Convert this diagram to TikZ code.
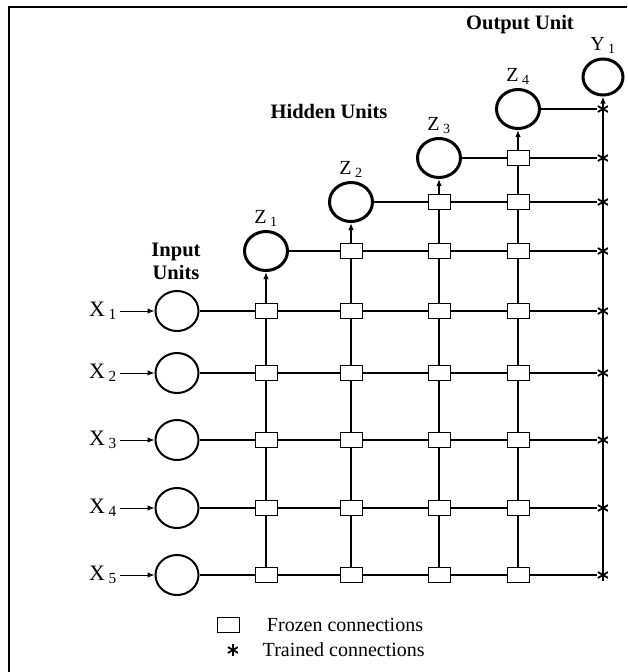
\documentclass[tikz,border=0pt]{standalone}
\usepackage{fontspec}
\setmainfont{Liberation Serif}
\usetikzlibrary{positioning, shapes.geometric, arrows.meta}

\tikzset{
  trained/.style={circle, minimum size=12pt, inner sep=0pt,
    path picture={
      \draw[line width=1.8pt] (path picture bounding box.center) +(90:6pt) -- +(270:6pt);
      \draw[line width=1.8pt] (path picture bounding box.center) +(30:6pt) -- +(210:6pt);
      \draw[line width=1.8pt] (path picture bounding box.center) +(150:6pt) -- +(330:6pt);
    }}
}

\begin{document}
\begin{tikzpicture}[
  x=1pt, y=-1pt,
  font=\fontsize{20}{22}\selectfont,
  >={Latex[length=7pt,width=5.5pt]},
  inunit/.style={draw, ellipse, line width=2pt, minimum width=43pt, minimum height=40pt, inner sep=0pt},
  hidunit/.style={draw, ellipse, line width=3pt, minimum width=43pt, minimum height=39pt, inner sep=0pt},
  frozen/.style={draw, fill=white, line width=0.9pt, minimum width=22pt, minimum height=15pt, inner sep=0pt},
  link/.style={line width=1.6pt},
  head/.style={font=\fontsize{20.5}{23}\selectfont\bfseries, align=center}
]
  \useasboundingbox (0,0) rectangle (627,672);
  \draw[line width=2.5pt] (9,672) -- (9,7) -- (627,7);

  % input rows
  \foreach \r/\y in {1/311, 2/373, 3/440, 4/508, 5/575} {
    \node[inunit] (x\r) at (177,\y) {};
    \node[anchor=east, inner sep=3pt, font=\fontsize{22}{24}\selectfont] (xl\r) at (120,\y) {X\,\textsubscript{\r}};
    \foreach \c/\x in {1/266, 2/351, 3/439, 4/518}
      \node[frozen] (s\r\c) at (\x,\y) {};
    \node[trained] (t\r) at (603,\y) {};
    \draw[->, line width=1pt] (xl\r) -- (x\r);
    \draw[link] (x\r) -- (s\r1) -- (s\r2) -- (s\r3) -- (s\r4) -- (t\r);
  }

  % hidden and output units
  \node[hidunit] (z1) at (266,251) {};
  \node[hidunit] (z2) at (351,202) {};
  \node[hidunit] (z3) at (439,158) {};
  \node[hidunit] (z4) at (518,109) {};
  \node[hidunit, minimum width=40pt, minimum height=36pt] (y1) at (603,77) {};

  \foreach \c/\x in {2/351, 3/439, 4/518} \node[frozen] (h1\c) at (\x,251) {};
  \foreach \c/\x in {3/439, 4/518} \node[frozen] (h2\c) at (\x,202) {};
  \node[frozen] (h34) at (518,158) {};
  \foreach \k/\y in {1/251, 2/202, 3/158, 4/109} \node[trained] (u\k) at (603,\y) {};

  \foreach \k in {1,...,4} \node[above=0pt of z\k] (zl\k) {Z\,\textsubscript{\k}};
  \node[above=0pt of y1] (yl1) {Y\,\textsubscript{1}};

  \node[head] (outlbl) at (520,25) {Output Unit};
  \node[head] (hidlbl) at (329,111) {Hidden Units};
  \node[head] (inlbl) at (176,261) {Input\\Units};

  % columns
  \draw[link, ->] (s51) -- (s41) -- (s31) -- (s21) -- (s11) -- (z1);
  \draw[link, ->] (s52) -- (s42) -- (s32) -- (s22) -- (s12) -- (h12) -- (z2);
  \draw[link, ->] (s53) -- (s43) -- (s33) -- (s23) -- (s13) -- (h13) -- (h23) -- (z3);
  \draw[link, ->] (s54) -- (s44) -- (s34) -- (s24) -- (s14) -- (h14) -- (h24) -- (h34) -- (z4);
  \draw[link, ->] (t5) -- (t4) -- (t3) -- (t2) -- (t1) -- (u1) -- (u2) -- (u3) -- (u4) -- (y1);

  % hidden rows
  \draw[link] (z1) -- (h12) -- (h13) -- (h14) -- (u1);
  \draw[link] (z2) -- (h23) -- (h24) -- (u2);
  \draw[link] (z3) -- (h34) -- (u3);
  \draw[link] (z4) -- (u4);

  % key
  \node[frozen] (keyf) at (228,625) {};
  \node[right=24pt of keyf] (keyftxt) {Frozen connections};
  \node[trained] (keyt) at (233,650) {};
  \node[right=20pt of keyt] (keyttxt) {Trained connections};
\end{tikzpicture}
\end{document}
